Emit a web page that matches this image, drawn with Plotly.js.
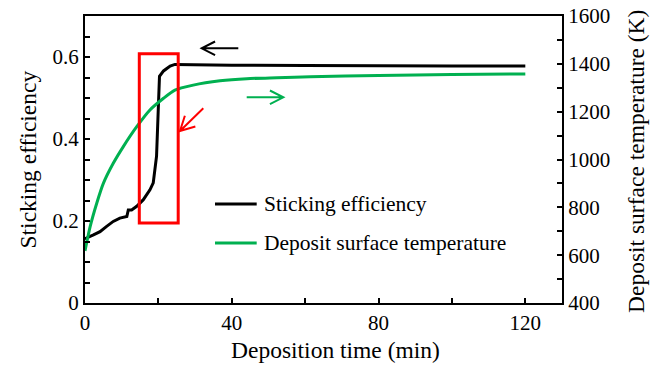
<!DOCTYPE html>
<html>
<head>
<meta charset="utf-8">
<script src="https://cdn.plot.ly/plotly-3.0.1.min.js"></script>
<style>
  html, body { margin: 0; padding: 0; background: #fff; }
  #chart { width: 660px; height: 365px; }
</style>
</head>
<body>
<div id="chart"></div>
<script>
// Sticking efficiency versus deposition time (left axis)
const timeSticking = [0, 0.3, 2.3, 4.1, 5.9, 7.7, 9.5, 11.4, 11.8, 12.7, 14.1, 15.9, 17.7, 18.6, 19.5, 19.7, 20.0, 20.3, 21.4, 23.2, 24.5, 30, 40, 60, 80, 100, 120];
const sticking     = [0.155, 0.158, 0.166, 0.174, 0.187, 0.199, 0.207, 0.211, 0.227, 0.227, 0.236, 0.252, 0.276, 0.293, 0.358, 0.407, 0.488, 0.553, 0.566, 0.578, 0.582, 0.581, 0.580, 0.579, 0.578, 0.578, 0.578];

// Deposit surface temperature versus deposition time (right axis, K)
const timeTemp = [0, 1.4, 3.2, 5.0, 7.7, 10.4, 14.1, 17.7, 21.4, 24.5, 29.5, 36.8, 44.1, 52.3, 61.4, 80, 100, 120];
const temperature = [618, 719, 817, 900, 984, 1053, 1137, 1207, 1256, 1290, 1311, 1329, 1338, 1342, 1346, 1351, 1355, 1358];

const seriesNames = ['Sticking efficiency', 'Deposit surface temperature'];
const seriesColors = ['#000000', '#00B050'];
const axisTitles = { x: 'Deposition time (min)', y: 'Sticking efficiency', y2: 'Deposit surface temperature (K)' };

// Highlighted transition window (deposition time, sticking efficiency)
const windowTime = [14.8, 25.4];
const windowSticking = [0.195, 0.608];

const FONT = 'Liberation Serif';

// Plot area in pixels (used to lay out the decorations)
const M = { l: 85, r: 98, t: 16, b: 62 };
const W = 660 - M.l - M.r, H = 365 - M.t - M.b;
const px = (x) => x / W;
const py = (y) => 1 - y / H;

// open arrow drawn as a path in paper coordinates; points in plot pixels
function arrowPath(tail, tip, len, angDeg) {
  const dx = tail[0] - tip[0], dy = tail[1] - tip[1];
  const d = Math.hypot(dx, dy), ux = dx / d, uy = dy / d;
  const a = angDeg * Math.PI / 180;
  const r1 = [tip[0] + len * (ux * Math.cos(a) - uy * Math.sin(a)), tip[1] + len * (ux * Math.sin(a) + uy * Math.cos(a))];
  const r2 = [tip[0] + len * (ux * Math.cos(-a) - uy * Math.sin(-a)), tip[1] + len * (ux * Math.sin(-a) + uy * Math.cos(-a))];
  const p = (q) => px(q[0]) + ',' + py(q[1]);
  return 'M' + p(tail) + ' L' + p(tip) + ' M' + p(r1) + ' L' + p(tip) + ' L' + p(r2);
}

const traces = [
  { x: timeSticking, y: sticking, type: 'scatter', mode: 'lines', name: seriesNames[0],
    line: { color: seriesColors[0], width: 3 }, yaxis: 'y', showlegend: false },
  { x: timeTemp, y: temperature, type: 'scatter', mode: 'lines', name: seriesNames[1],
    line: { color: seriesColors[1], width: 3, shape: 'spline', smoothing: 0.6 }, yaxis: 'y2', showlegend: false }
];

const shapes = [
  { type: 'rect', xref: 'x', yref: 'y', x0: windowTime[0], x1: windowTime[1], y0: windowSticking[0], y1: windowSticking[1],
    line: { color: '#FF0000', width: 3 }, fillcolor: 'rgba(0,0,0,0)' },
  // axis-direction arrows
  { type: 'path', xref: 'paper', yref: 'paper', path: arrowPath([153.3, 32.3], [116.7, 32.3], 15, 27), line: { color: '#000', width: 2 } },
  { type: 'path', xref: 'paper', yref: 'paper', path: arrowPath([161.7, 81.3], [198.3, 81.3], 15, 27), line: { color: seriesColors[1], width: 2 } },
  { type: 'path', xref: 'paper', yref: 'paper', path: arrowPath([118.3, 92.3], [95, 115], 16, 28), line: { color: '#FF0000', width: 2 } },
  // legend samples
  { type: 'line', xref: 'paper', yref: 'paper', x0: px(130), x1: px(171.7), y0: py(188), y1: py(188), line: { color: seriesColors[0], width: 3 } },
  { type: 'line', xref: 'paper', yref: 'paper', x0: px(130), x1: px(171.7), y0: py(227), y1: py(227), line: { color: seriesColors[1], width: 3 } }
];

const tickFont = { family: FONT, size: 21, color: '#000' };
const titleFont = { family: FONT, size: 23.5, color: '#000' };
const legendFont = { family: FONT, size: 21.5, color: '#000' };

const annotations = [
  // legend entries
  { xref: 'paper', yref: 'paper', x: px(176.7), y: py(188), xanchor: 'left', yanchor: 'middle', showarrow: false,
    text: seriesNames[0], font: legendFont },
  { xref: 'paper', yref: 'paper', x: px(176.7), y: py(227), xanchor: 'left', yanchor: 'middle', showarrow: false,
    text: seriesNames[1], font: legendFont },
  // axis titles
  { xref: 'paper', yref: 'paper', x: px(250), y: py(334), xanchor: 'center', yanchor: 'middle', showarrow: false,
    text: axisTitles.x, font: titleFont },
  { xref: 'paper', yref: 'paper', x: px(-57.5), y: py(144), xanchor: 'center', yanchor: 'middle', showarrow: false,
    textangle: -90, text: axisTitles.y, font: titleFont },
  { xref: 'paper', yref: 'paper', x: px(551), y: py(146), xanchor: 'center', yanchor: 'middle', showarrow: false,
    textangle: -90, text: axisTitles.y2, font: titleFont }
];

const layout = {
  width: 660, height: 365,
  margin: M,
  paper_bgcolor: '#fff', plot_bgcolor: '#fff',
  font: { family: FONT, color: '#000' },
  xaxis: {
    range: [0, 130], tickvals: [0, 40, 80, 120], ticks: 'inside', ticklen: 5, tickwidth: 2, tickcolor: '#000',
    minor: { tickvals: [20, 60, 100], ticks: 'inside', ticklen: 5, tickwidth: 2, tickcolor: '#000' },
    showline: true, linecolor: '#000', linewidth: 2, mirror: true, showgrid: false, zeroline: false,
    tickfont: tickFont
  },
  yaxis: {
    range: [0, 0.7], tickvals: [0, 0.2, 0.4, 0.6], ticktext: ['0', '0.2', '0.4', '0.6'],
    ticks: 'inside', ticklen: 5, tickwidth: 2, tickcolor: '#000',
    minor: { dtick: 0.05, ticks: 'inside', ticklen: 5, tickwidth: 2, tickcolor: '#000' },
    showline: true, linecolor: '#000', linewidth: 2, showgrid: false, zeroline: false,
    tickfont: tickFont
  },
  yaxis2: {
    range: [400, 1600], overlaying: 'y', side: 'right', tickvals: [400, 600, 800, 1000, 1200, 1400, 1600],
    ticks: 'inside', ticklen: 5, tickwidth: 2, tickcolor: '#000',
    minor: { dtick: 100, ticks: 'inside', ticklen: 5, tickwidth: 2, tickcolor: '#000' },
    showline: true, linecolor: '#000', linewidth: 2, showgrid: false, zeroline: false,
    tickfont: tickFont
  },
  shapes: shapes,
  annotations: annotations,
  showlegend: false
};

Plotly.newPlot('chart', traces, layout, { staticPlot: true, displayModeBar: false });
</script>
</body>
</html>
